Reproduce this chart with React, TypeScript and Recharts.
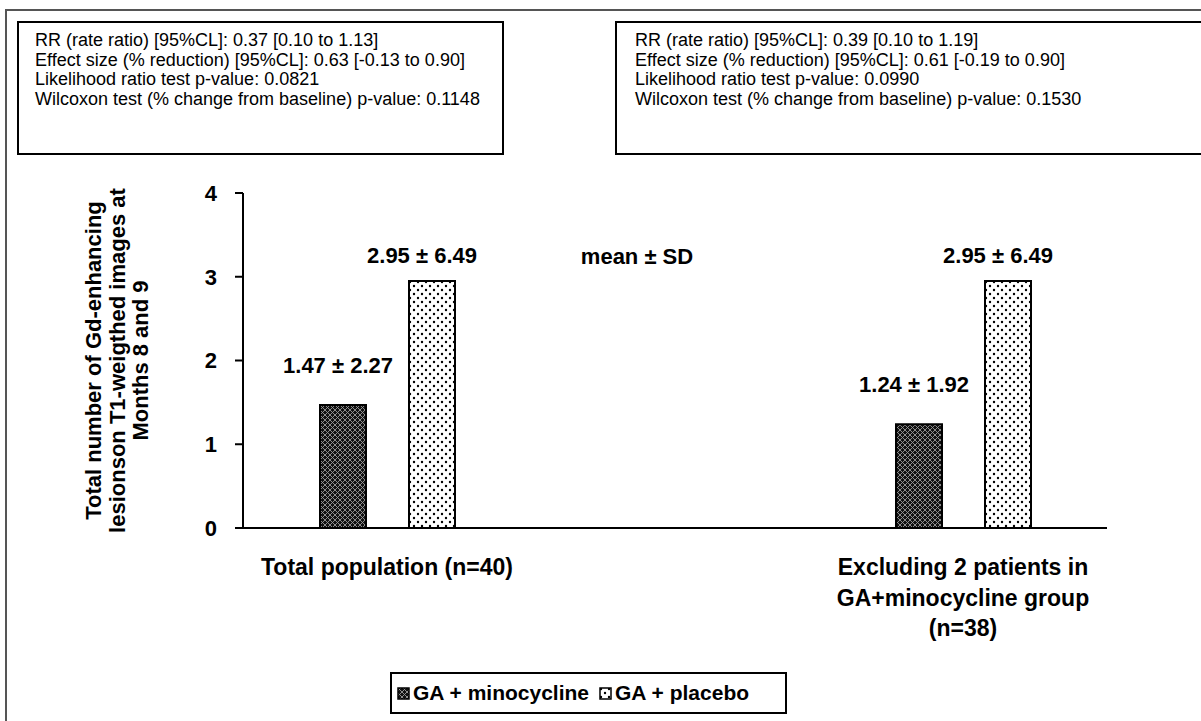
import { BarChart, Bar, XAxis, YAxis, Legend, Label, LabelList } from 'recharts'

const groups = ['Total population (n=40)', ' ', 'Excluding 2 patients in\nGA+minocycline group\n(n=38)']
const minoMean = [1.47, null, 1.24]
const minoSd = [2.27, null, 1.92]
const placeboMean = [2.95, null, 2.95]
const placeboSd = [6.49, null, 6.49]
const yTicks = [0, 1, 2, 3, 4]
const yTitle = ['Total number of Gd-enhancing', 'lesionson T1-weigthed images at', 'Months 8 and 9']

const statsLeft = [
    'RR (rate ratio) [95%CL]: 0.37 [0.10 to 1.13]',
    'Effect size (% reduction) [95%CL]: 0.63 [-0.13 to 0.90]',
    'Likelihood ratio test p-value: 0.0821',
    'Wilcoxon test (% change from baseline) p-value: 0.1148',
]
const statsRight = [
    'RR (rate ratio) [95%CL]: 0.39 [0.10 to 1.19]',
    'Effect size (% reduction) [95%CL]: 0.61 [-0.19 to 0.90]',
    'Likelihood ratio test p-value: 0.0990',
    'Wilcoxon test (% change from baseline) p-value: 0.1530',
]

const data = groups.map((g, i) => ({
    group: g,
    mino: minoMean[i],
    placebo: placeboMean[i],
    minoLabel: minoMean[i] == null ? '' : `${minoMean[i]!.toFixed(2)} ± ${minoSd[i]!.toFixed(2)}`,
    placeboLabel: placeboMean[i] == null ? '' : `${placeboMean[i]!.toFixed(2)} ± ${placeboSd[i]!.toFixed(2)}`,
}))

const FONT = '"Liberation Sans", Arial, sans-serif'

function GroupTick(props: any) {
    const { x, y, payload } = props
    const lines = String(payload.value).split('\n')
    return (
        <text x={x} y={y} textAnchor="middle" fontFamily={FONT} fontSize={23} fontWeight="bold" fill="#000">
            {lines.map((l, i) => (
                <tspan key={i} x={x} dy={i === 0 ? 47 : 30.5}>{l}</tspan>
            ))}
        </text>
    )
}

function YTitle(props: any) {
    const vb = props.viewBox
    const cy = vb.y + vb.height / 2
    const bx = vb.x - 82
    return (
        <text
            x={bx}
            y={cy}
            transform={`rotate(-90, ${bx}, ${cy})`}
            textAnchor="middle"
            fontFamily={FONT}
            fontSize={22}
            fontWeight="bold"
            fill="#000"
        >
            {yTitle.map((l, i) => (
                <tspan key={i} x={bx} dy={i === 0 ? 0 : 23.5}>{l}</tspan>
            ))}
        </text>
    )
}

function valueLabel(offset: number, shift: number) {
    return (props: any) => {
        const { x, y, width, value } = props
        if (!value) return null
        return (
            <text x={x + width / 2 + shift} y={y - offset} textAnchor="middle" fontFamily={FONT} fontSize={22} fontWeight="bold" fill="#000">
                {value}
            </text>
        )
    }
}

function LegendBox() {
    const item = (fill: string, text: string) => (
        <span style={{ display: 'inline-flex', alignItems: 'center', marginRight: 10 }}>
            <svg width={13} height={13} style={{ marginRight: 3 }}>
                <rect x={1} y={1} width={11} height={11} fill={fill} stroke="#000" strokeWidth={1.5} />
            </svg>
            {text}
        </span>
    )
    return (
        <div
            style={{
                boxSizing: 'border-box',
                width: 397,
                height: 42,
                border: '2px solid #000',
                display: 'flex',
                alignItems: 'center',
                paddingLeft: 5,
                fontFamily: FONT,
                fontSize: 21,
                fontWeight: 'bold',
                color: '#000',
                whiteSpace: 'nowrap',
            }}
        >
            {item('url(#crossHatch)', 'GA + minocycline')}
            {item('url(#dots)', 'GA + placebo')}
        </div>
    )
}

function StatsBox({ lines, left, width, padLeft, openRight }: { lines: string[]; left: number; width: number; padLeft: number; openRight?: boolean }) {
    return (
        <div
            style={{
                position: 'absolute',
                left,
                top: 21,
                width,
                height: 134,
                boxSizing: 'border-box',
                border: '2px solid #000',
                borderRight: openRight ? 'none' : '2px solid #000',
                padding: `8px 0 0 ${padLeft}px`,
                fontFamily: FONT,
                fontSize: 18,
                lineHeight: '19.5px',
                color: '#000',
                whiteSpace: 'nowrap',
                background: '#fff',
            }}
        >
            {lines.map((l, i) => (
                <div key={i}>{l}</div>
            ))}
        </div>
    )
}

export default function App() {
    return (
        <div style={{ position: 'absolute', left: 0, top: 0, width: 1201, height: 721, background: '#fff', overflow: 'hidden' }}>
            <div style={{ position: 'absolute', left: 5, top: 9, width: 1196, height: 712, boxSizing: 'border-box', borderTop: '2px solid #555', borderLeft: '2px solid #555' }} />
            <StatsBox lines={statsLeft} left={17} width={487} padLeft={16} />
            <StatsBox lines={statsRight} left={615} width={586} padLeft={18} openRight />
            <div
                style={{
                    position: 'absolute',
                    left: 637,
                    top: 257,
                    transform: 'translate(-50%, -50%)',
                    fontFamily: FONT,
                    fontSize: 22,
                    fontWeight: 'bold',
                    whiteSpace: 'nowrap',
                }}
            >
                mean ± SD
            </div>
            <div style={{ position: 'absolute', left: 0, top: 0 }}>
                <BarChart
                    width={1201}
                    height={721}
                    data={data}
                    margin={{ top: 193, right: 94, left: 183, bottom: 163 }}
                    barSize={46}
                    barGap={43}
                >
                    <defs>
                        <pattern id="crossHatch" width={5} height={5} patternUnits="userSpaceOnUse">
                            <rect width={5} height={5} fill="#111" />
                            <path d="M0,0 L5,5 M5,0 L0,5" stroke="#9a9a9a" strokeWidth={0.9} />
                        </pattern>
                        <pattern id="dots" width={8} height={8} patternUnits="userSpaceOnUse">
                            <rect width={8} height={8} fill="#fff" />
                            <circle cx={2} cy={2} r={1.2} fill="#000" />
                            <circle cx={6} cy={6} r={1.2} fill="#000" />
                        </pattern>
                    </defs>
                    <XAxis
                        dataKey="group"
                        height={30}
                        tickLine={false}
                        tickSize={0}
                        tickMargin={0}
                        axisLine={{ stroke: '#000', strokeWidth: 2 }}
                        tick={<GroupTick />}
                        interval={0}
                    />
                    <YAxis
                        width={60}
                        domain={[0, 4]}
                        ticks={yTicks}
                        tickSize={8}
                        tickMargin={18}
                        axisLine={{ stroke: '#000', strokeWidth: 2 }}
                        tickLine={{ stroke: '#000', strokeWidth: 2 }}
                        tick={{ fill: '#000', fontSize: 22, fontWeight: 'bold', fontFamily: FONT }}
                    >
                        <Label content={<YTitle />} />
                    </YAxis>
                    <Legend
                        layout="horizontal"
                        verticalAlign="middle"
                        align="center"
                        wrapperStyle={{ top: 672, left: 390, width: 397, height: 42 }}
                        content={<LegendBox />}
                    />
                    <Bar dataKey="mino" name="GA + minocycline" fill="url(#crossHatch)" stroke="#000" strokeWidth={2} isAnimationActive={false}>
                        <LabelList dataKey="minoLabel" content={valueLabel(32, -5)} />
                    </Bar>
                    <Bar dataKey="placebo" name="GA + placebo" fill="url(#dots)" stroke="#000" strokeWidth={2} isAnimationActive={false}>
                        <LabelList dataKey="placeboLabel" content={valueLabel(18, -10)} />
                    </Bar>
                </BarChart>
            </div>
        </div>
    )
}
